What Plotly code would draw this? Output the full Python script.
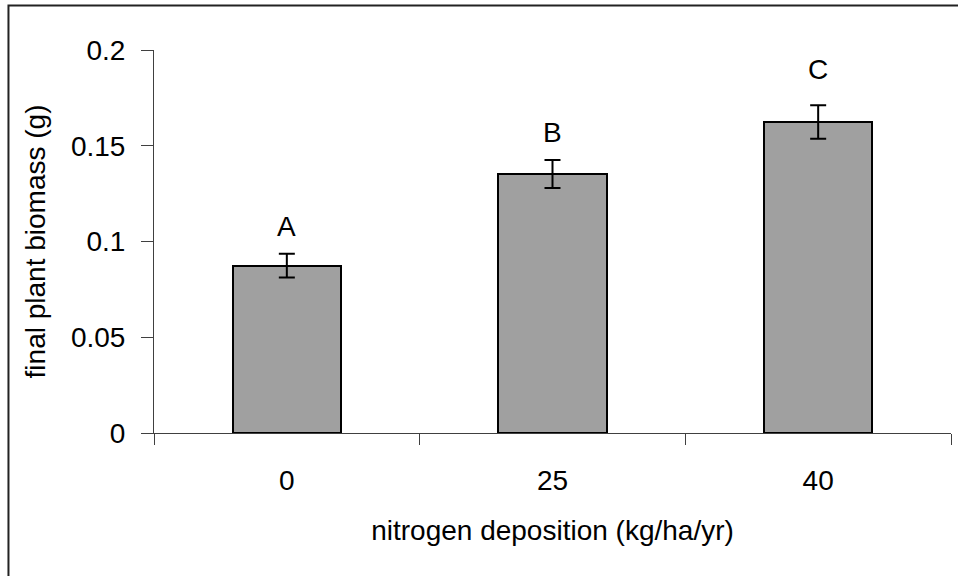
import plotly.graph_objects as go

# Nitrogen deposition treatments and final biomass (mean ± SE)
categories = ["0", "25", "40"]
biomass = [0.0874, 0.1353, 0.1624]
biomass_err = [0.0062, 0.0073, 0.0088]
group_letters = ["A", "B", "C"]
letter_y = [0.1078, 0.1567, 0.1900]

y_ticks = [0, 0.05, 0.1, 0.15, 0.2]
y_tick_text = ["0", "0.05", "0.1", "0.15", "0.2"]

FONT = "Liberation Sans, Arial, sans-serif"
AXIS_COLOR = "#404040"

fig = go.Figure()
fig.add_trace(go.Bar(
    x=categories,
    y=biomass,
    width=0.407,
    marker=dict(color="#a0a0a0", line=dict(color="#000000", width=2)),
    error_y=dict(type="data", array=biomass_err, visible=True,
                 color="#000000", thickness=2, width=8),
    showlegend=False,
))

# Significance letters above each bar (category index positions)
for i, (letter, ly) in enumerate(zip(group_letters, letter_y)):
    fig.add_annotation(x=i, y=ly, text=letter, showarrow=False,
                       font=dict(family=FONT, size=28, color="#000000"),
                       xanchor="center", yanchor="middle")

# Outer frame around the whole chart
fig.add_shape(type="rect", xref="paper", yref="paper",
              x0=-0.1826, x1=1.2, y0=-0.5, y1=1.116,
              line=dict(color="#222222", width=2), fillcolor="rgba(0,0,0,0)")

fig.update_layout(
    width=958, height=576,
    margin=dict(l=154, r=7, t=50, b=142.5, autoexpand=False),
    paper_bgcolor="#ffffff", plot_bgcolor="#ffffff",
    font=dict(family=FONT, size=28, color="#000000"),
    bargap=0,
)
fig.update_xaxes(
    type="category", tickson="boundaries", range=[-0.5, 2.5],
    tickangle=0,
    showline=True, linecolor=AXIS_COLOR, linewidth=1,
    ticks="outside", ticklen=11, tickcolor=AXIS_COLOR, tickwidth=1,
    ticklabelstandoff=22,
    showgrid=False, zeroline=False,
    title=dict(text="nitrogen deposition (kg/ha/yr)", standoff=25,
               font=dict(family=FONT, size=28)),
    automargin=False,
)
fig.update_yaxes(
    range=[0, 0.2], tickvals=y_ticks, ticktext=y_tick_text,
    showline=True, linecolor=AXIS_COLOR, linewidth=1,
    ticks="outside", ticklen=12, tickcolor=AXIS_COLOR, tickwidth=1,
    ticklabelstandoff=10,
    showgrid=False, zeroline=False,
    title=dict(text="final plant biomass (g)", standoff=17,
               font=dict(family=FONT, size=28)),
    automargin=False,
)

fig.write_html("out.html")
